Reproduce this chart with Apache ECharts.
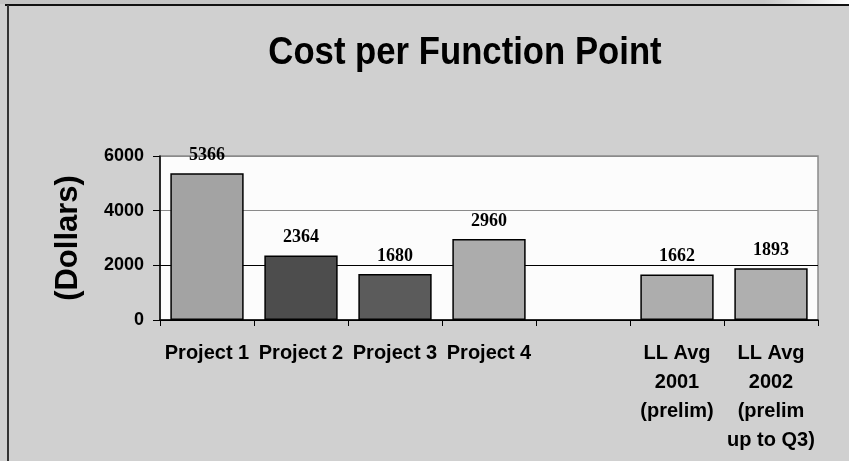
<!DOCTYPE html>
<html>
<head>
<meta charset="utf-8">
<title>Cost per Function Point</title>
<script src="https://cdn.jsdelivr.net/npm/echarts@6/dist/echarts.min.js"></script>
<style>
  html, body { margin: 0; padding: 0; background: #d0d0d0; }
  #chart { width: 849px; height: 461px; }
</style>
</head>
<body>
<div id="chart"></div>
<script>
  // categories (the 5th slot is left empty on purpose)
  const categories = [
    'Project 1',
    'Project 2',
    'Project 3',
    'Project 4',
    '',
    'LL Avg\n2001\n(prelim)',
    'LL Avg\n2002\n(prelim\nup to Q3)'
  ]
  const costValues = [5366, 2364, 1680, 2960, null, 1662, 1893]
  const barColors = ['#a3a3a3', '#4d4d4d', '#5b5b5b', '#acacac', '#acacac', '#adadad', '#afafaf']
  const yTicks = [0, 2000, 4000, 6000]

  const chart = echarts.init(document.getElementById('chart'))

  const seriesData = costValues.map(function (v, i) {
    return {
      value: v === null ? '-' : v,
      itemStyle: { color: barColors[i] }
    }
  })

  chart.setOption({
    backgroundColor: '#d0d0d0',
    animation: false,
    textStyle: {
      fontFamily: '"Liberation Sans", Arial, sans-serif'
    },
    graphic: [
      // top strip + frame lines
      {
        type: 'rect',
        shape: { x: 0, y: 0, width: 849, height: 4 },
        style: {
          fill: new echarts.graphic.LinearGradient(0, 0, 1, 0, [
            { offset: 0, color: '#c4c4c4' },
            { offset: 0.9, color: '#c8c8c8' },
            { offset: 1, color: '#ffffff' }
          ])
        },
        silent: true
      },
      {
        type: 'line',
        shape: { x1: 5, y1: 5, x2: 849, y2: 5 },
        style: { stroke: '#111', lineWidth: 2 },
        silent: true
      },
      {
        type: 'line',
        shape: { x1: 8, y1: 5, x2: 8, y2: 461 },
        style: { stroke: '#333', lineWidth: 2 },
        silent: true
      },
      // title, slightly condensed like the original
      {
        type: 'text',
        x: 465,
        y: 53,
        scaleX: 0.89,
        style: {
          text: 'Cost per Function Point',
          font: 'bold 39px "Liberation Sans", Arial, sans-serif',
          fill: '#000',
          align: 'center',
          verticalAlign: 'middle',
          textAlign: 'center',
          textVerticalAlign: 'middle'
        },
        silent: true
      }
    ],
    grid: {
      left: 160,
      right: 31,
      top: 156,
      bottom: 141,
      show: true,
      backgroundColor: '#fcfcfc',
      borderColor: '#8a8a8a',
      borderWidth: 1.5
    },
    xAxis: {
      type: 'category',
      data: categories,
      boundaryGap: true,
      axisLine: {
        lineStyle: { color: '#000', width: 1.5 }
      },
      axisTick: {
        show: true,
        length: 6,
        alignWithLabel: false,
        lineStyle: { color: '#000' }
      },
      axisLabel: {
        interval: 0,
        margin: 19,
        color: '#000',
        fontSize: 20,
        fontWeight: 'bold',
        lineHeight: 29
      }
    },
    yAxis: {
      type: 'value',
      min: yTicks[0],
      max: yTicks[yTicks.length - 1],
      interval: 2000,
      name: '(Dollars)',
      nameLocation: 'middle',
      nameRotate: 90,
      nameGap: 76,
      nameTextStyle: {
        color: '#000',
        fontSize: 31,
        fontWeight: 'bold'
      },
      axisLine: {
        show: true,
        lineStyle: { color: '#000', width: 1.5 }
      },
      axisTick: {
        show: true,
        length: 7,
        lineStyle: { color: '#000' }
      },
      axisLabel: {
        margin: 16,
        color: '#000',
        fontSize: 18,
        fontWeight: 'bold',
        formatter: function (v) {
          return String(v)
        }
      },
      splitLine: {
        show: true,
        // 0 / 2000 black, 4000 / 6000 grey as in the original
        lineStyle: {
          color: ['#000', '#000', '#8a8a8a', '#8a8a8a'],
          width: 1.2
        }
      }
    },
    series: [
      {
        type: 'bar',
        data: seriesData,
        barCategoryGap: '22%',
        itemStyle: {
          borderColor: '#000',
          borderWidth: 1.5
        },
        label: {
          show: true,
          position: 'top',
          distance: 9,
          color: '#000',
          fontFamily: '"Liberation Serif", "Times New Roman", serif',
          fontWeight: 'bold',
          fontSize: 18
        }
      }
    ]
  })
</script>
</body>
</html>
